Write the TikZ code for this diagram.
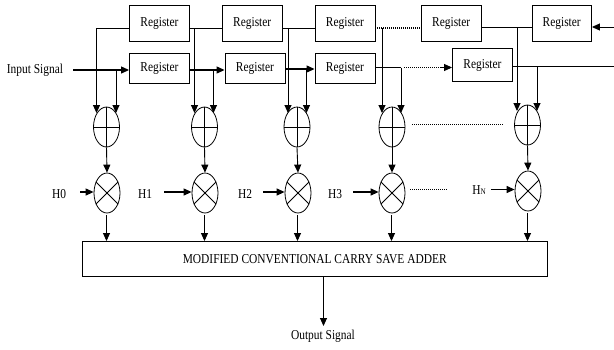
\documentclass[tikz,border=0pt]{standalone}
\usepackage{fontspec}
\setmainfont{Liberation Serif}
\newfontfamily\narrowserif[FakeStretch=0.84]{Liberation Serif}
\usetikzlibrary{arrows.meta,shapes.geometric,calc}
\tikzset{
  regbox/.style={draw,line width=0.9pt,rectangle,inner sep=0pt,font=\narrowserif\fontsize{13.6}{15}\selectfont},
  circ/.style={draw,line width=0.8pt,ellipse,inner sep=0pt,minimum width=26pt,minimum height=40pt},
  wire/.style={line width=0.9pt},
  arr/.style={line width=0.9pt,-{Triangle[length=8pt,width=7pt]}},
  dotw/.style={line width=1.1pt,dash pattern=on 1pt off 1pt},
  lab/.style={inner sep=0pt,font=\narrowserif\fontsize{13.6}{15}\selectfont}
}
\newcommand{\regat}[6]{\node[regbox,minimum width=#4 pt-#3 pt,minimum height=#6 pt-#5 pt] (#1) at ({(#3+#4)/2},{(#5+#6)/2}) {#2};}
\begin{document}
\begin{tikzpicture}[x=1pt,y=-1pt]
\useasboundingbox (0,0) rectangle (614,349);
% registers
\regat{r1}{Register}{129.5}{189.5}{5.5}{41}
\regat{r2}{Register}{222.5}{282}{5.5}{41}
\regat{r3}{Register}{315}{375}{5.5}{41}
\regat{r4}{Register}{421.5}{481}{5.5}{41}
\regat{r5}{Register}{532}{591.5}{5.5}{41}
\regat{b1}{Register}{129.5}{189.5}{53}{83}
\regat{b2}{Register}{225}{285}{53}{83}
\regat{b3}{Register}{315}{375}{53}{83}
\regat{b4}{Register}{452.5}{512.5}{48.5}{81.5}
% adders and multipliers
\foreach \n/\x/\y in {1/106.5/127,2/204.5/127,3/297/127,4/392/127,5/527.5/125}{
  \node[circ] (a\n) at (\x,\y) {};
  \draw[line width=0.8pt] (a\n.west) -- (a\n.east) (a\n.north) -- (a\n.south);
}
\foreach \n/\x/\y in {1/107/193,2/205/193,3/298/193,4/392/193,5/528/191}{
  \node[circ] (m\n) at (\x,\y) {};
  \draw[line width=0.8pt] (m\n.45) -- (m\n.225) (m\n.135) -- (m\n.315);
}
% adder box
\node[regbox,minimum width=465.5pt,minimum height=34.5pt] (csa) at (314.75,258.75) {MODIFIED CONVENTIONAL CARRY SAVE ADDER};
% labels
\node[lab] (inp) at (35,70) {Input Signal};
\node[lab] (h0) at (59,194) {H0};
\node[lab] (h1) at (145,194) {H1};
\node[lab] (h2) at (245,194) {H2};
\node[lab] (h3) at (335,194) {H3};
\node[lab] (hn) at (479,190) {H\kern0pt{\fontsize{8.5}{9}\selectfont N}};
\node[lab] (out) at (323,336) {Output Signal};
% free ends
\coordinate (inS) at (73,70);
\coordinate (rIn) at (614,27);
\coordinate (bOut) at (614,66);
\coordinate (outT) at (323.5,326);
\foreach \n/\xl/\xr/\y in {1/96.5/116/113,2/194.5/213.5/113,3/288/306.5/113,4/382/401/113,5/517/537/111}{
  \coordinate (al\n) at (\xl,\y);
  \coordinate (ar\n) at (\xr,\y);
}
% top row
\draw[wire] (r1.east |- 0,28) -- (r2.west |- 0,28);
\draw[wire] (r2.east |- 0,28) -- (r3.west |- 0,28);
\draw[dotw] (r3.east |- 0,28) -- (r4.west |- 0,28);
\draw[wire] (r4.east |- 0,27) -- (r5.west |- 0,27);
\draw[arr] (rIn) -- (r5.east |- rIn);
% bottom row
\draw[arr,line width=1.2pt] (inS) -- (b1.west |- inS);
\draw[arr,line width=1.2pt] (b1.east |- 0,70) -- (b2.west |- 0,70);
\draw[arr,line width=1.2pt] (b2.east |- 0,69) -- (b3.west |- 0,69);
\draw[wire] (b3.east |- 0,67.5) -- (401,67.5);
\draw[dotw] (404,67.5) -- (440,67.5);
\draw[arr] (440,67.5) -- (b4.west |- 0,67.5);
\draw[wire] (b4.east |- bOut) -- (bOut);
% branches into adders
\draw[arr] (r1.west |- 0,28) -| (al1);
\draw[arr] (ar1 |- inS) -- (ar1);
\draw[arr] (al2 |- 0,28) -- (al2);
\draw[arr] (ar2 |- 0,70) -- (ar2);
\draw[arr] (al3 |- 0,28) -- (al3);
\draw[arr] (ar3 |- 0,69) -- (ar3);
\draw[arr] (al4 |- 0,28) -- (al4);
\draw[arr] (ar4 |- 0,67.5) -- (ar4);
\draw[arr] (al5 |- 0,27) -- (al5);
\draw[arr] (ar5 |- bOut) -- (ar5);
% adders to multipliers to CSA
\foreach \n in {1,...,5}{
  \draw[arr] (a\n.south) -- (m\n.north);
  \draw[arr] ($(m\n.south)+(-0.5,2)$) -- (csa.north -| {$(m\n.south)+(-0.5,0)$});
}
% coefficients
\draw[arr,line width=1.2pt] ($(h0.east)+(14,-2)$) -- (m1.west |- 0,192);
\draw[arr,line width=1.2pt] ($(h1.east)+(12,-2)$) -- (m2.west |- 0,192);
\draw[arr,line width=1.2pt] ($(h2.east)+(11,-2)$) -- (m3.west |- 0,192);
\draw[arr,line width=1.2pt] ($(h3.east)+(11,-2)$) -- (m4.west |- 0,192);
\draw[arr,line width=1.2pt] ($(hn.east)+(5,-0.5)$) -- (m5.west |- 0,189.5);
% dotted continuation
\draw[dotw] (412,124.5) -- (504,124.5);
\draw[dotw] (410,189.5) -- (447,189.5);
% output
\draw[arr] (csa.south -| outT) -- (outT);
\end{tikzpicture}
\end{document}
